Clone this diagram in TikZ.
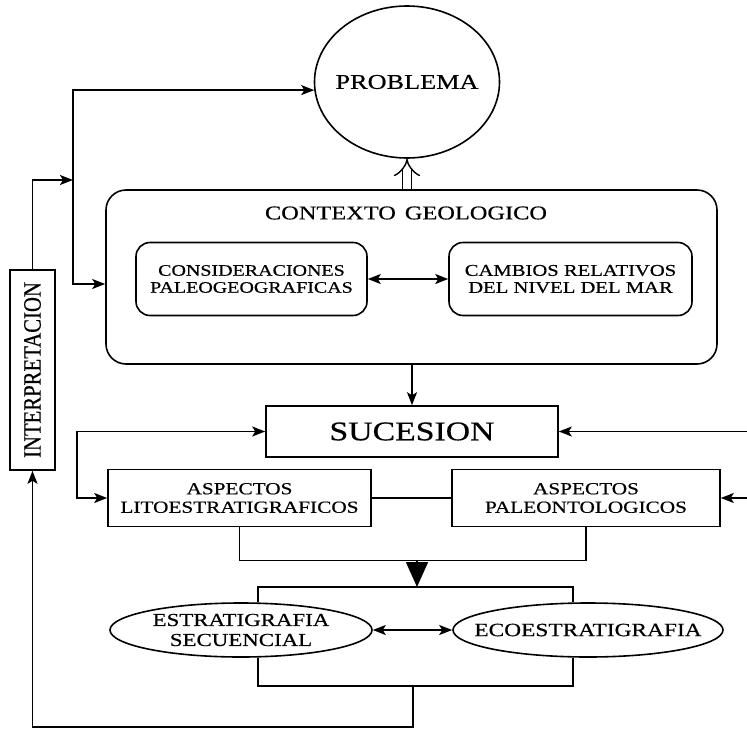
\documentclass[tikz,border=0pt]{standalone}
\usepackage{fontspec}
\setmainfont{Liberation Serif}[FakeStretch=1.25, FakeBold=0.5]
\newfontfamily\narrowfont{Liberation Serif}[FakeStretch=0.83, FakeBold=0.5]
\usepackage{graphicx}
\usepackage{tikz}
\usetikzlibrary{shapes, calc}
\usetikzlibrary{arrows.meta, positioning}

\tikzset{
  flecha/.style={-{Stealth[length=13pt,width=10pt,inset=3pt]}},
  doble/.style={{Stealth[length=13pt,width=10pt,inset=3pt]}-{Stealth[length=13pt,width=10pt,inset=3pt]}},
  grande/.style={-{Triangle[length=25pt,width=22pt]}},
  caja/.style={draw, rectangle, align=center, inner sep=0pt},
  redonda/.style={caja, rounded corners=14pt},
  elipse/.style={draw, ellipse, inner sep=0pt},
  texto/.style={align=center, inner sep=0pt},
}

\begin{document}
\begin{tikzpicture}[x=1pt, y=-1pt, line width=1.6pt]
    \useasboundingbox (0,0) rectangle (747,731);
    % problema y contexto
    \node[elipse, minimum width=185, minimum height=152] (problema) at (407,82) {};
    \node[texto, font=\fontsize{21}{23}\selectfont] (tproblema) at (problema) {PROBLEMA};
    \node[redonda, rounded corners=20pt, minimum width=611, minimum height=174] (contexto) at (411.5,277) {};
    \node[font=\fontsize{19.5}{21}\selectfont] (tcontexto) at (406,213) {CONTEXTO\hspace{9pt}GEOLOGICO};
    \node[redonda, minimum width=231, minimum height=73, font=\fontsize{16}{17}\selectfont] (paleogeo) at (251.5,279) {CONSIDERACIONES\\PALEOGEOGRAFICAS};
    \node[redonda, minimum width=243, minimum height=73, font=\fontsize{16.5}{17}\selectfont] (nivelmar) at (570.5,279) {CAMBIOS RELATIVOS\\DEL NIVEL DEL MAR};
    %
    \node[caja, minimum width=292, minimum height=51, font=\fontsize{27}{29}\selectfont] (sucesion) at (412,431.5) {SUCESION};
    \node[caja, minimum width=263, minimum height=57, font=\fontsize{17}{18.5}\selectfont] (lito) at (239.5,498) {ASPECTOS\\LITOESTRATIGRAFICOS};
    \node[caja, minimum width=268, minimum height=57, font=\fontsize{17}{18.5}\selectfont] (paleonto) at (586,498) {ASPECTOS\\PALEONTOLOGICOS};
    \node[elipse, minimum width=262, minimum height=54] (secuencial) at (241,630) {};
    \node[texto, font=\fontsize{18.3}{20}\selectfont] (tsecuencial) at (secuencial) {ESTRATIGRAFIA\\SECUENCIAL};
    \node[elipse, minimum width=270, minimum height=54] (ecoestrat) at (588,630) {};
    \node[texto, font=\fontsize{18.7}{20}\selectfont] (tecoestrat) at (ecoestrat) {ECOESTRATIGRAFIA};
    \node[caja, minimum width=45, minimum height=200] (interp) at (32.5,370) {\rotatebox{90}{\narrowfont\fontsize{25}{27}\selectfont INTERPRETACION}};

    % retroalimentacion
    \coordinate (bifurca) at (73,180);
    \draw[flecha] (interp.north) |- (bifurca);
    \draw[flecha] (bifurca) |- (problema.185);
    \draw[flecha] (bifurca) |- ([yshift=-7pt]contexto.west);
    \draw[-{Implies[length=14pt,width=30pt]}, line width=1.4pt, double, double distance=8pt] (contexto.north -| problema) -- (problema.south);
    \draw[doble] (paleogeo.east) -- (nivelmar.west);
    \draw[flecha] (contexto.south -| sucesion) -- (sucesion.north);

    \coordinate (derecha1) at (747,431.5);
    \coordinate (derecha2) at (747,498);
    \draw[flecha] (derecha1) -- (sucesion.east);
    \draw[flecha] (derecha2) -- (paleonto.east);
    \draw[doble] (sucesion.west) -- ++(-188,0) |- (lito.west);
    \draw (lito.east) -- (paleonto.west);

    % llaves de union
    \coordinate (cierre) at (417,559.5);
    \coordinate (arriba) at (417,587);
    \coordinate (abajo) at (413,686);
    \draw (lito.south) -- ++(0,33) -| (paleonto.south);
    \draw[grande] (cierre) -- (arriba);
    \draw ([xshift=17pt]secuencial.north) |- (arriba) -| ([xshift=-15pt]ecoestrat.north);
    \draw[doble] (secuencial.east) -- (ecoestrat.west);
    \draw ([xshift=17pt]secuencial.south) |- (abajo) -| ([xshift=-15pt]ecoestrat.south);
    \draw[flecha] (abajo) -- ++(0,41) -| (interp.south);
\end{tikzpicture}
\end{document}
